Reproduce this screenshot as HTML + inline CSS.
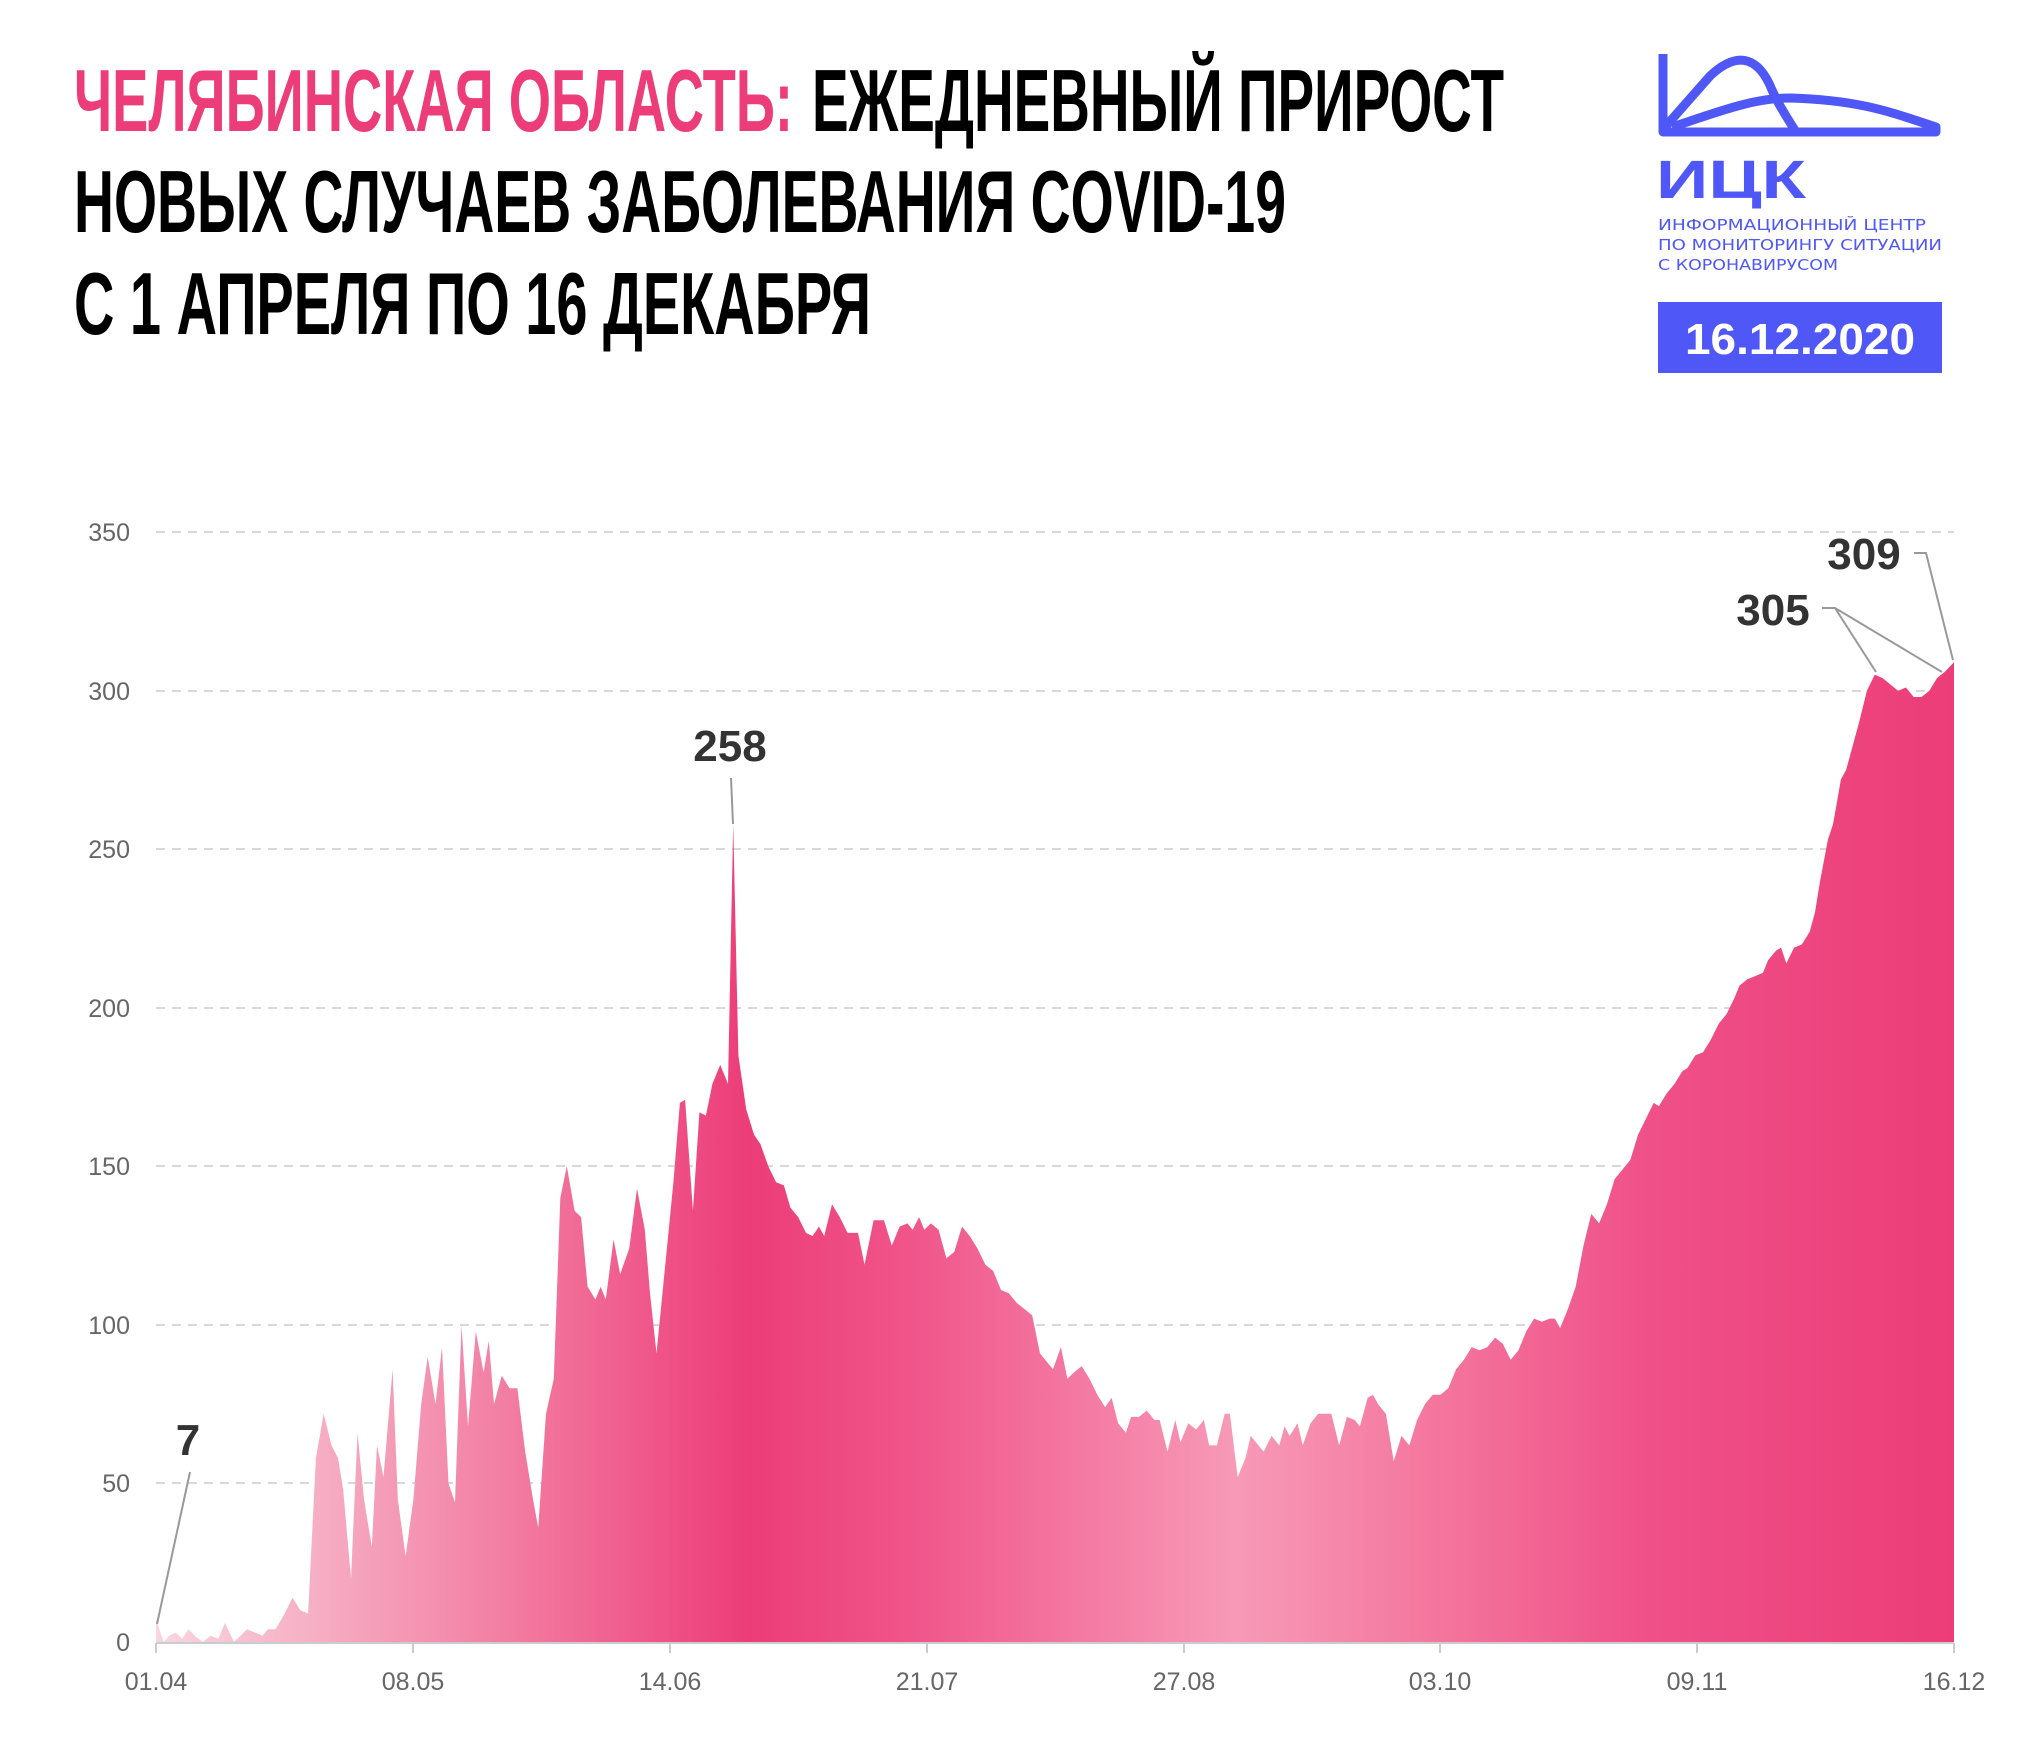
<!DOCTYPE html>
<html><head><meta charset="utf-8"><style>
html,body{margin:0;padding:0;background:#fff;}
svg{display:block;}
</style></head><body>
<svg id="s" width="2037" height="1744" viewBox="0 0 2037 1744" xmlns="http://www.w3.org/2000/svg">
<defs>
<linearGradient id="g" gradientUnits="userSpaceOnUse" x1="156" y1="0" x2="1954" y2="0">
<stop offset="0" stop-color="#f9d6e0"/>
<stop offset="0.09" stop-color="#f6aec4"/>
<stop offset="0.2" stop-color="#f27ba1"/>
<stop offset="0.3" stop-color="#ee4a82"/>
<stop offset="0.33" stop-color="#ec3d78"/>
<stop offset="0.42" stop-color="#f0558a"/>
<stop offset="0.6" stop-color="#f79ab8"/>
<stop offset="0.7" stop-color="#f47aa0"/>
<stop offset="0.83" stop-color="#ef5088"/>
<stop offset="1" stop-color="#ec3d78"/>
</linearGradient>
</defs>
<g font-family="Liberation Sans, sans-serif" font-weight="bold" font-size="88">
<text x="74" y="131" textLength="719" lengthAdjust="spacingAndGlyphs" fill="#ec3d78">ЧЕЛЯБИНСКАЯ ОБЛАСТЬ:</text>
<text x="812" y="131" textLength="692" lengthAdjust="spacingAndGlyphs" fill="#000">ЕЖЕДНЕВНЫЙ ПРИРОСТ</text>
<text x="74" y="232" textLength="1212" lengthAdjust="spacingAndGlyphs" fill="#000">НОВЫХ СЛУЧАЕВ ЗАБОЛЕВАНИЯ COVID-19</text>
<text x="74" y="334" textLength="797" lengthAdjust="spacingAndGlyphs" fill="#000">С 1 АПРЕЛЯ ПО 16 ДЕКАБРЯ</text>
</g>
<g fill="none" stroke="#4f57f7" stroke-width="9" stroke-linejoin="round">
<path d="M1663,54 V132 H1936 L1936,127 C1890,112 1860,100 1790,98 C1750,98 1710,115 1672,127"/>
<path d="M1666,126 L1710,76 C1740,48 1760,60 1772,90 C1780,108 1790,122 1796,132"/>
</g>
<text x="1656" y="198" font-family="Liberation Sans, sans-serif" font-weight="bold" font-size="54" fill="#4f57f7" textLength="150" lengthAdjust="spacingAndGlyphs">ИЦК</text>
<g font-family="DejaVu Sans, sans-serif" font-size="15" fill="#4f57f7">
<text x="1658" y="230" textLength="268" lengthAdjust="spacingAndGlyphs">ИНФОРМАЦИОННЫЙ ЦЕНТР</text>
<text x="1658" y="250" textLength="284" lengthAdjust="spacingAndGlyphs">ПО МОНИТОРИНГУ СИТУАЦИИ</text>
<text x="1658" y="270" textLength="180" lengthAdjust="spacingAndGlyphs">С КОРОНАВИРУСОМ</text>
</g>
<rect x="1658" y="302" width="284" height="71" fill="#4f57f7"/>
<text x="1800" y="354" text-anchor="middle" font-family="Liberation Sans, sans-serif" font-weight="bold" font-size="44" fill="#fff" textLength="230" lengthAdjust="spacingAndGlyphs">16.12.2020</text>
<g stroke="#d8d8d8" stroke-width="2" stroke-dasharray="9,7">
<line x1="156" x2="1954" y1="532" y2="532"/><line x1="156" x2="1954" y1="691" y2="691"/>
<line x1="156" x2="1954" y1="849" y2="849"/><line x1="156" x2="1954" y1="1008" y2="1008"/>
<line x1="156" x2="1954" y1="1166" y2="1166"/><line x1="156" x2="1954" y1="1325" y2="1325"/>
<line x1="156" x2="1954" y1="1483" y2="1483"/>
</g>
<g font-family="Liberation Sans, sans-serif" font-size="25" fill="#666" text-anchor="end">
<text x="130" y="541">350</text><text x="130" y="700">300</text><text x="130" y="858">250</text>
<text x="130" y="1017">200</text><text x="130" y="1175">150</text><text x="130" y="1334">100</text>
<text x="130" y="1492">50</text><text x="130" y="1651">0</text>
</g>
<path id="area" fill="url(#g)" d=""/>
<g stroke="#ccc" stroke-width="2">
<line x1="156" x2="1954" y1="1643" y2="1643"/>
<line x1="156" x2="156" y1="1643" y2="1653"/><line x1="413" x2="413" y1="1643" y2="1653"/>
<line x1="670" x2="670" y1="1643" y2="1653"/><line x1="927" x2="927" y1="1643" y2="1653"/>
<line x1="1184" x2="1184" y1="1643" y2="1653"/><line x1="1440" x2="1440" y1="1643" y2="1653"/>
<line x1="1697" x2="1697" y1="1643" y2="1653"/><line x1="1954" x2="1954" y1="1643" y2="1653"/>
</g>
<g font-family="Liberation Sans, sans-serif" font-size="25" fill="#666" text-anchor="middle">
<text x="156" y="1690">01.04</text><text x="413" y="1690">08.05</text><text x="670" y="1690">14.06</text>
<text x="927" y="1690">21.07</text><text x="1184" y="1690">27.08</text><text x="1440" y="1690">03.10</text>
<text x="1697" y="1690">09.11</text><text x="1954" y="1690">16.12</text>
</g>
<g stroke="#999" stroke-width="2" fill="none">
<path d="M190,1472 L157,1624"/>
<path d="M731,778 L733,824"/>
<path d="M1822,608 H1835 L1876,672 M1835,608 L1942,672"/>
<path d="M1914,553 H1926 L1953,660"/>
</g>
<g font-family="Liberation Sans, sans-serif" font-weight="bold" font-size="44" fill="#333" text-anchor="middle">
<text x="188" y="1455">7</text>
<text x="730" y="761">258</text>
<text x="1773" y="625">305</text>
<text x="1864" y="569">309</text>
</g>
</svg>
<script>
var pts=[[120,7],[126,0],[130,2],[135,3],[140,1],[145,4],[150,2],[156,0],[162,2],[168,1],[173,6],[180,0],[185,2],[190,4],[196,3],[202,2],[206,4],[212,4],[219,9],[225,14],[231,10],[237,9],[243,58],[249,72],[255,62],[260,58],[264,48],[270,20],[275,66],[280,45],[286,30],[290,62],[295,52],[302,86],[306,45],[312,27],[318,45],[324,75],[329,90],[335,75],[340,93],[345,50],[350,44],[355,100],[360,68],[366,98],[372,85],[376,95],[380,75],[386,84],[392,80],[398,80],[404,60],[410,45],[414,36],[420,72],[426,83],[431,140],[436,150],[442,136],[447,134],[452,112],[458,108],[462,112],[466,108],[472,127],[477,116],[484,124],[490,143],[496,130],[500,110],[505,91],[512,120],[518,145],[523,170],[527,171],[533,136],[538,167],[543,166],[548,176],[554,182],[560,176],[564,258],[568,185],[574,168],[580,160],[585,157],[591,150],[597,145],[603,144],[608,137],[614,134],[620,129],[625,128],[630,131],[634,128],[640,138],[646,134],[652,129],[660,129],[665,119],[672,133],[680,133],[686,125],[692,131],[698,132],[702,130],[707,134],[711,130],[716,132],[722,130],[728,121],[734,123],[740,131],[746,128],[752,124],[758,119],[764,117],[770,111],[776,110],[782,107],[788,105],[794,103],[800,91],[806,88],[810,86],[816,93],[821,83],[826,85],[832,87],[838,83],[844,78],[850,74],[855,77],[860,69],[866,66],[870,71],[876,71],[882,73],[888,70],[892,70],[898,60],[904,70],[908,63],[914,69],[920,67],[926,70],[930,62],[936,62],[942,72],[946,72],[952,52],[958,58],[962,65],[968,62],[972,60],[978,65],[984,62],[988,68],[992,65],[998,69],[1002,62],[1008,69],[1014,72],[1020,72],[1024,72],[1030,62],[1036,71],[1042,70],[1046,68],[1052,77],[1056,78],[1060,75],[1066,72],[1072,57],[1078,65],[1084,62],[1090,70],[1096,75],[1102,78],[1108,78],[1114,80],[1120,86],[1126,89],[1132,93],[1138,92],[1144,93],[1150,96],[1156,94],[1162,89],[1168,92],[1174,98],[1180,102],[1186,101],[1192,102],[1196,102],[1200,99],[1206,105],[1212,112],[1218,125],[1224,135],[1230,132],[1236,138],[1242,146],[1248,149],[1254,152],[1260,160],[1266,165],[1272,170],[1276,169],[1282,173],[1288,176],[1294,180],[1298,181],[1304,185],[1310,186],[1316,190],[1322,195],[1328,198],[1334,203],[1338,207],[1344,209],[1350,210],[1356,211],[1360,215],[1366,218],[1370,219],[1374,214],[1380,219],[1386,220],[1392,224],[1396,230],[1400,240],[1406,253],[1410,258],[1416,272],[1420,275],[1426,284],[1430,290],[1436,300],[1442,305],[1448,304],[1454,302],[1460,300],[1466,301],[1472,298],[1478,298],[1484,300],[1490,304],[1496,306],[1503,309]];
var d="M156,1642";
for(var i=0;i<pts.length;i++){var X=156+(pts[i][0]-120)*(1798/1383);var Y=1642-pts[i][1]*3.171;d+=" L"+X.toFixed(1)+","+Y.toFixed(1);}
d+=" L1954,1642 Z";
document.getElementById("area").setAttribute("d",d);
</script>
</body></html>
